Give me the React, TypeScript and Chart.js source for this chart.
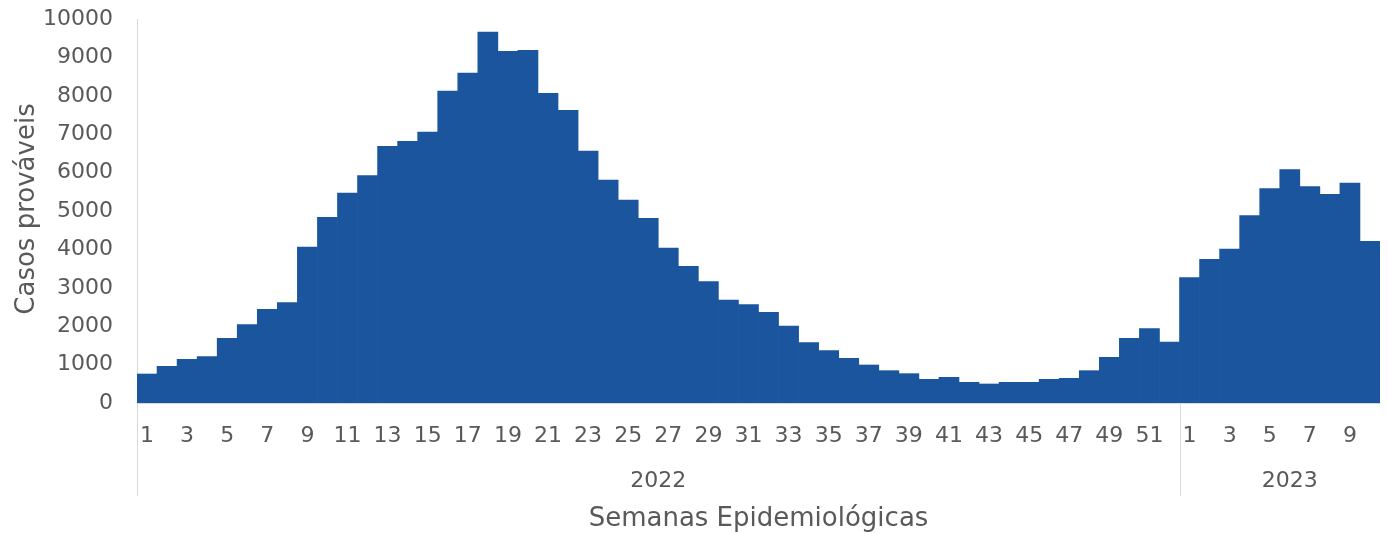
import React, { useEffect, useRef } from "react";
import { Chart, registerables } from "chart.js";

Chart.register(...registerables);

const weeks2022: string[] = ["1","2","3","4","5","6","7","8","9","10","11","12","13","14","15","16","17","18","19","20","21","22","23","24","25","26","27","28","29","30","31","32","33","34","35","36","37","38","39","40","41","42","43","44","45","46","47","48","49","50","51","52"];
const weeks2023: string[] = ["1","2","3","4","5","6","7","8","9","10"];

const cases2022: number[] = [
  755, 955, 1138, 1207, 1684, 2040, 2440, 2612, 4062, 4835,
  5469, 5920, 6685, 6815, 7057, 8125, 8594, 9661, 9158, 9184,
  8064, 7621, 6563, 5807, 5286, 4809, 4036, 3559, 3160, 2682,
  2561, 2361, 2005, 1571, 1363, 1163, 990, 842, 764, 616,
  668, 538, 495, 538, 538, 616, 642, 842, 1189, 1684,
  1936, 1589,
];
const cases2023: number[] = [3264, 3741, 4010, 4878, 5582, 6076, 5634, 5434, 5729, 4210];

const years: string[] = ["2022", "2023"];
const yearWeeks: string[][] = [weeks2022, weeks2023];
const yearCases: number[][] = [cases2022, cases2023];

const yTitle = "Casos prováveis";
const xTitle = "Semanas Epidemiológicas";

const FONT = "'DejaVu Sans', sans-serif";
const TEXT = "#595959";
const LINE = "#d9d9d9";
const BAR = "#1a559e";

export default function App() {
  const ref = useRef<HTMLCanvasElement | null>(null);

  useEffect(() => {
    if (!ref.current) return;
    const labels: string[] = ([] as string[]).concat(...yearWeeks);
    const values: number[] = ([] as number[]).concat(...yearCases);

    const groupPlugin = {
      id: "groupLabels",
      afterDraw(chart: any) {
        const { ctx, chartArea, scales } = chart;
        const xs = scales.x;
        const n = labels.length;
        const step = (chartArea.right - chartArea.left) / n;
        ctx.save();
        ctx.strokeStyle = LINE;
        ctx.lineWidth = 1;
        let idx = 0;
        const bounds: number[] = [];
        for (let g = 0; g < yearWeeks.length; g++) {
          const startPx = xs.getPixelForValue(idx) - step / 2;
          bounds.push(startPx);
          idx += yearWeeks[g].length;
        }
        bounds.push(chartArea.right);
        for (let g = 0; g < yearWeeks.length; g++) {
          const x = Math.round(bounds[g]) + 0.5;
          ctx.beginPath();
          ctx.moveTo(x, chartArea.bottom);
          ctx.lineTo(x, chartArea.bottom + 93);
          ctx.stroke();
        }
        ctx.fillStyle = TEXT;
        ctx.font = `22px ${FONT}`;
        ctx.textAlign = "center";
        ctx.textBaseline = "middle";
        for (let g = 0; g < years.length; g++) {
          const a = bounds[g];
          let b = bounds[g + 1];
          if (g === years.length - 1) b = b + step;
          ctx.fillText(years[g], (a + b) / 2, 481.5);
        }
        ctx.font = `26px ${FONT}`;
        ctx.fillText(xTitle, (chartArea.left + chartArea.right) / 2, 519);
        ctx.translate(27, 209);
        ctx.rotate(-Math.PI / 2);
        ctx.fillText(yTitle, 0, 0);
        ctx.restore();
      },
    };

    const chart = new Chart(ref.current, {
      type: "bar",
      data: {
        labels,
        datasets: [
          {
            label: yTitle,
            data: values,
            backgroundColor: BAR,
            borderWidth: 0,
            barPercentage: 1,
            categoryPercentage: 1,
          },
        ],
      },
      options: {
        animation: false,
        responsive: true,
        maintainAspectRatio: false,
        layout: { padding: { left: 0, right: 8, top: 19, bottom: 0 } },
        plugins: {
          legend: { display: false },
          tooltip: { enabled: false },
        },
        scales: {
          x: {
            grid: { display: false, drawTicks: false },
            border: { display: true, color: LINE, width: 1 },
            ticks: {
              autoSkip: false,
              maxRotation: 0,
              minRotation: 0,
              padding: 20,
              color: TEXT,
              font: { family: FONT, size: 22 },
              callback: (_v: any, i: number) => (i % 2 === 0 ? labels[i] : ""),
            },
            afterFit: (s: any) => {
              s.height = 131;
              s.paddingLeft = 0;
              s.paddingRight = 0;
              s.paddingTop = 0;
              s.paddingBottom = 0;
            },
          },
          y: {
            min: 0,
            max: 10000,
            grid: { display: false, drawTicks: false },
            border: { display: true, color: LINE, width: 1 },
            ticks: {
              stepSize: 1000,
              padding: 24,
              color: TEXT,
              font: { family: FONT, size: 22 },
              callback: (v: any) => String(v),
            },
            afterFit: (s: any) => {
              s.width = 137;
              s.paddingLeft = 0;
              s.paddingRight = 0;
              s.paddingTop = 0;
              s.paddingBottom = 0;
            },
          },
        },
      },
      plugins: [groupPlugin],
    });
    return () => chart.destroy();
  }, []);

  return (
    <div style={{ position: "fixed", left: 0, top: 0, width: 1388, height: 534, background: "#fff" }}>
      <canvas ref={ref} />
    </div>
  );
}
